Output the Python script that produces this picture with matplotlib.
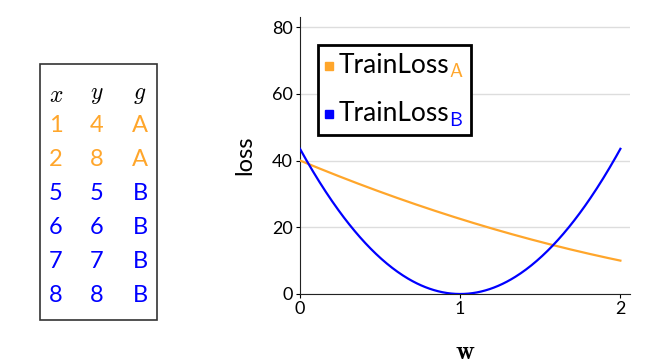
import numpy as np
import matplotlib.pyplot as plt
from matplotlib.offsetbox import TextArea, DrawingArea, HPacker, VPacker, AnchoredOffsetbox
from matplotlib.patches import Rectangle

plt.rcParams['font.family'] = ['Lato', 'DejaVu Sans']
plt.rcParams['mathtext.fontset'] = 'cm'

# table data
xs = [1, 2, 5, 6, 7, 8]
ys = [4, 8, 5, 6, 7, 8]
gs = ['A', 'A', 'B', 'B', 'B', 'B']
colors = {'A': '#FFA62B', 'B': '#0000FF'}

xticks = [0, 1, 2]
yticks = [0, 20, 40, 60, 80]

# loss curves from the table points (mean squared error of y = w*x)
w = np.linspace(0, 2, 300)
xs_a = np.array([x for x, g in zip(xs, gs) if g == 'A'])
ys_a = np.array([y for y, g in zip(ys, gs) if g == 'A'])
xs_b = np.array([x for x, g in zip(xs, gs) if g == 'B'])
ys_b = np.array([y for y, g in zip(ys, gs) if g == 'B'])
loss_a = ((ys_a[None, :] - w[:, None] * xs_a[None, :]) ** 2).mean(axis=1)
loss_b = ((ys_b[None, :] - w[:, None] * xs_b[None, :]) ** 2).mean(axis=1)

fig = plt.figure(figsize=(6.58, 3.63), dpi=100)

# table on the left
fig.patches.append(Rectangle((40 / 658, 1 - 320 / 363), 117 / 658, 256 / 363,
                             transform=fig.transFigure, fill=False,
                             edgecolor='#333333', linewidth=1.2))
col_x = [56 / 658, 97 / 658, 140 / 658]
for cx, h in zip(col_x, ['x', 'y', 'g']):
    fig.text(cx, 1 - 95 / 363, '$' + h + '$', ha='center', va='center', fontsize=17)
for i, (x, y, g) in enumerate(zip(xs, ys, gs)):
    yy = 1 - (125 + i * 34) / 363
    for cx, v in zip(col_x, [x, y, g]):
        fig.text(cx, yy, str(v), ha='center', va='center', fontsize=17, color=colors[g])

# plot
ax = fig.add_axes([300 / 658, 69 / 363, 330 / 658, 277 / 363])
ax.plot(w, loss_a, color=colors['A'], lw=1.6, zorder=3)
ax.plot(w, loss_b, color=colors['B'], lw=1.6, zorder=3)
ax.set_xlim(0, 2.06)
ax.set_ylim(0, 83)
ax.set_xticks(xticks)
ax.set_yticks(yticks)
ax.tick_params(labelsize=13, length=3, width=0.8, pad=2)
ax.yaxis.grid(True, color='#dddddd', lw=1)
ax.set_axisbelow(True)
for s in ['top', 'right']:
    ax.spines[s].set_visible(False)
for s in ['left', 'bottom']:
    ax.spines[s].set_color('#222222')
ax.set_ylabel('loss', fontsize=17, labelpad=12)
ax.set_xlabel(r'$\mathbf{w}$', fontsize=19, labelpad=16)

# legend with coloured subscripts
rows = []
for g in ['A', 'B']:
    da = DrawingArea(6, 8, 0, 0)
    da.add_artist(Rectangle((0, 2), 6, 6, color=colors[g]))
    main = TextArea('TrainLoss', textprops=dict(fontsize=19, color='black'))
    sub = TextArea(r'$_{\mathsf{' + g + '}}$', textprops=dict(fontsize=20, color=colors[g]))
    label = HPacker(children=[main, sub], align='baseline', pad=0, sep=-1)
    rows.append(HPacker(children=[da, label], align='baseline', pad=0, sep=4))
box = VPacker(children=rows, align='left', pad=0, sep=15)
leg = AnchoredOffsetbox(loc='upper left', child=box, pad=0.5, borderpad=0,
                        frameon=True, bbox_to_anchor=(0.055, 0.9),
                        bbox_transform=ax.transAxes)
leg.patch.set_edgecolor('black')
leg.patch.set_linewidth(2)
leg.patch.set_boxstyle('square', pad=0)
ax.add_artist(leg)

fig.savefig('out.png', dpi=100)
